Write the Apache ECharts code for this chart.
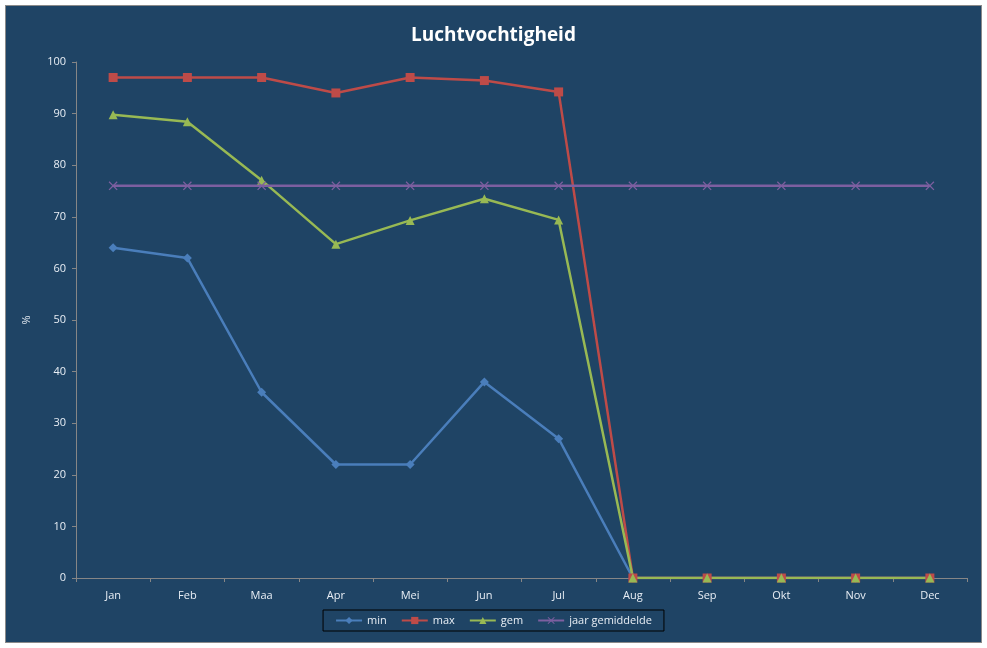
<!DOCTYPE html>
<html>
<head>
<meta charset="utf-8">
<script src="https://cdn.jsdelivr.net/npm/echarts@6/dist/echarts.min.js"></script>
<style>
    html, body { margin: 0; padding: 0; background: #ffffff; }
    #chart {
        position: absolute;
        left: 5px;
        top: 5px;
        width: 975px;
        height: 636px;
        border: 1px solid #8a8a8a;
        background: #1f4465;
    }
</style>
</head>
<body>
<div id="chart"></div>
<script>
// ==================
// DATA
// ==================

const months = ['Jan', 'Feb', 'Maa', 'Apr', 'Mei', 'Jun', 'Jul', 'Aug', 'Sep', 'Okt', 'Nov', 'Dec'];
const minValues = [64, 62, 36, 22, 22, 38, 27, 0, 0, 0, 0, 0];
const maxValues = [97, 97, 97, 94, 97, 96.4, 94.2, 0, 0, 0, 0, 0];
const gemValues = [89.8, 88.4, 77.1, 64.7, 69.3, 73.5, 69.4, 0, 0, 0, 0, 0];
const jaarValues = [76, 76, 76, 76, 76, 76, 76, 76, 76, 76, 76, 76];

// ==================
// CONFIG
// ==================

const axisColor = '#868686';
const labelColor = '#e8eef5';
const fontFamily = '"Open Sans", "Noto Sans", sans-serif';
const crossPath = 'path://M0,1L1,0L5,4L9,0L10,1L6,5L10,9L9,10L5,6L1,10L0,9L4,5Z';

const seriesConfig = [
    { name: 'min', data: minValues, color: '#4a7ebb', symbol: 'diamond', size: 9 },
    { name: 'max', data: maxValues, color: '#be4b48', symbol: 'rect', size: 9 },
    { name: 'gem', data: gemValues, color: '#98b954', symbol: 'triangle', size: 9 },
    { name: 'jaar gemiddelde', data: jaarValues, color: '#7d5fa0', symbol: crossPath, size: 9 }
];

const chart = echarts.init(document.getElementById('chart'));

const option = {
    animation: false,
    title: {
        text: 'Luchtvochtigheid',
        left: 'center',
        top: 15,
        textStyle: {
            color: '#ffffff',
            fontSize: 19,
            fontWeight: 'bold',
            fontFamily: fontFamily
        }
    },
    grid: {
        left: 70,
        right: 14,
        top: 56,
        bottom: 64,
        containLabel: false
    },
    legend: {
        left: 'center',
        bottom: 11,
        itemGap: 14,
        itemWidth: 26,
        itemHeight: 9,
        padding: [5, 12, 5, 12],
        borderColor: '#000000',
        borderWidth: 1,
        textStyle: {
            color: labelColor,
            fontSize: 11,
            fontFamily: fontFamily
        },
        data: seriesConfig.map(s => s.name)
    },
    xAxis: {
        type: 'category',
        data: months,
        boundaryGap: true,
        axisLine: { lineStyle: { color: axisColor, width: 1 } },
        axisTick: { show: true, length: 4, inside: false, lineStyle: { color: axisColor } },
        axisLabel: {
            color: labelColor,
            fontSize: 11,
            margin: 12,
            fontFamily: fontFamily
        },
        splitLine: { show: false }
    },
    yAxis: {
        type: 'value',
        min: 0,
        max: 100,
        interval: 10,
        name: '%',
        nameLocation: 'middle',
        nameGap: 44,
        nameTextStyle: {
            color: labelColor,
            fontSize: 11,
            fontFamily: fontFamily
        },
        axisLine: { show: true, lineStyle: { color: axisColor, width: 1 } },
        axisTick: { show: true, length: 4, lineStyle: { color: axisColor } },
        axisLabel: {
            color: labelColor,
            fontSize: 11,
            margin: 10,
            fontFamily: fontFamily
        },
        splitLine: { show: false }
    },
    series: seriesConfig.map(s => ({
        name: s.name,
        type: 'line',
        data: s.data,
        symbol: s.symbol,
        symbolSize: s.size,
        showAllSymbol: true,
        lineStyle: { color: s.color, width: 2.5 },
        itemStyle: { color: s.color, borderWidth: 0 }
    }))
};

chart.setOption(option);
</script>
</body>
</html>
